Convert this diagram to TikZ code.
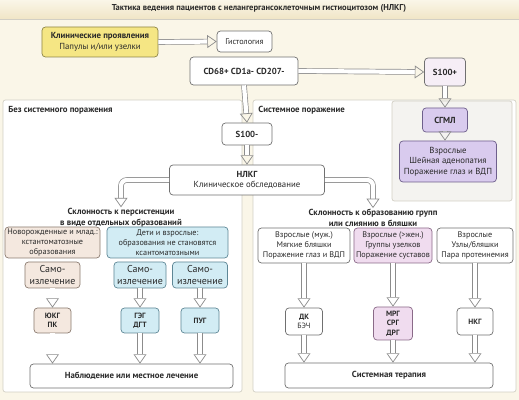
\documentclass[tikz,border=0pt]{standalone}
\usepackage{fontspec}
\setmainfont{PT Sans}
\usepackage{tikz}
\usetikzlibrary{arrows.meta}

\definecolor{bgcream}{HTML}{FAF6E8}
\definecolor{titlebar}{HTML}{F0E5C6}
\definecolor{panelline}{HTML}{D2CFC4}
\definecolor{subfill}{HTML}{F4F3F0}
\definecolor{boxline}{HTML}{707070}
\definecolor{arrline}{HTML}{8C8C8C}
\definecolor{txt}{HTML}{2A2A2A}
\definecolor{yellowfill}{HTML}{F5E684}
\definecolor{yellowline}{HTML}{8E8548}
\definecolor{beigefill}{HTML}{F4E8DF}
\definecolor{beigeline}{HTML}{8B7B70}
\definecolor{bluefill}{HTML}{D2ECF4}
\definecolor{blueline}{HTML}{5E8796}
\definecolor{pinkfill}{HTML}{F0DCEF}
\definecolor{pinkline}{HTML}{8A6A88}
\definecolor{lavfill}{HTML}{D9CBEE}
\definecolor{lavline}{HTML}{6E5F8C}
\definecolor{palepink}{HTML}{F6EEF6}

\begin{document}
\begin{tikzpicture}[x=0.03cm,y=-0.03cm,
  box/.style={draw=boxline, line width=0.6pt, rounded corners=3pt, fill=white, align=center,
    inner sep=1pt, text=txt, font=\fontsize{7}{8.5}\selectfont},
  beige/.style={box, fill=beigefill, draw=beigeline},
  blue/.style={box, fill=bluefill, draw=blueline},
  pink/.style={box, fill=pinkfill, draw=pinkline},
  lav/.style={box, fill=lavfill, draw=lavline},
  head/.style={align=center, inner sep=1pt, text=txt, font=\fontsize{7.5}{9}\selectfont\bfseries},
  panel/.style={draw=panelline, line width=0.6pt, fill=white, rounded corners=2pt},
  blk/.style={draw=arrline, line width=0.6pt, double=white, double distance=3.6pt,
    -{Triangle[open, length=8pt, width=11pt]}}]
\useasboundingbox (0,0) rectangle (519,400);
\fill[bgcream] (0,0) rectangle (519,400);
\shade[top color=bgcream, bottom color=titlebar] (0,0) rectangle (519,19);
\draw[panelline] (0,19) -- (519,19);
\node[head, font=\fontsize{7.3}{9}\selectfont\bfseries] (title) at (259,8)
  {Тактика ведения пациентов с нелангергансоклеточным гистиоцитозом (НЛКГ)};

% panels
\draw[panel] (3,100) rectangle (242,392);
\draw[panel] (253,100) rectangle (516,392);
\draw[panel, fill=subfill] (392,101) rectangle (512,201);
\node[head, anchor=west] (nosys) at (7,110) {Без системного поражения};
\node[head, anchor=west] (sys) at (257,110) {Системное поражение};

% top
\node[box, fill=yellowfill, draw=yellowline, font=\fontsize{7.5}{9}\selectfont,
  minimum width=3.48cm, minimum height=0.9cm] (clin) at (100,42)
  {\textbf{Клинические проявления}\\Папулы и/или узелки};
\node[box, minimum width=1.65cm, minimum height=0.63cm] (hist) at (244.5,41.5) {Гистология};
\node[box, font=\fontsize{7.5}{9}\selectfont\bfseries, minimum width=3.24cm, minimum height=0.84cm]
  (cd) at (244,71) {CD68+ CD1a- CD207-};
\node[box, fill=palepink, font=\fontsize{7.5}{9}\selectfont\bfseries, minimum width=1.23cm,
  minimum height=0.84cm] (splus) at (445,72) {S100+};
\node[box, font=\fontsize{7.5}{9}\selectfont\bfseries, minimum width=1.5cm, minimum height=0.66cm]
  (sminus) at (247,134) {S100-};
\node[box, font=\fontsize{7.5}{9}\selectfont, minimum width=4.65cm, minimum height=0.9cm]
  (nlkg) at (247,180) {\textbf{НЛКГ}\\Клиническое обследование};
\node[lav, font=\fontsize{7.5}{9}\selectfont\bfseries, minimum width=1.35cm, minimum height=0.72cm]
  (sgml) at (445,120) {СГМЛ};
\node[lav, font=\fontsize{7.5}{9}\selectfont, minimum width=2.91cm, minimum height=1.23cm]
  (adult) at (448,161.5) {Взрослые\\Шейная аденопатия\\Поражение глаз и ВДП};

% headings
\node[head] (pers) at (121,218) {Склонность к персистенции\\в виде отдельных образований};
\node[head] (grp) at (373,218) {Склонность к образованию групп\\или слиянию в бляшки};

% left branch
\node[beige, minimum width=2.85cm, minimum height=0.93cm] (newborn) at (52.5,242.5)
  {Новорожденные и млад.:\\кстантоматозные\\образования};
\node[blue, minimum width=3.63cm, minimum height=0.93cm] (children) at (167.5,242.5)
  {Дети и взрослые:\\образования не становятся\\ксантоматозными};
\node[beige, font=\fontsize{8.5}{10}\selectfont, minimum width=1.65cm, minimum height=0.78cm]
  (selfa) at (52.5,275) {Само-\\излечение};
\node[blue, font=\fontsize{8.5}{10}\selectfont, minimum width=1.56cm, minimum height=0.78cm]
  (selfb) at (140,275) {Само-\\излечение};
\node[blue, font=\fontsize{8.5}{10}\selectfont, minimum width=1.65cm, minimum height=0.78cm]
  (selfc) at (200,275) {Само-\\излечение};
\node[beige, font=\fontsize{6.5}{8}\selectfont\bfseries, minimum width=1.11cm, minimum height=0.75cm]
  (jkg) at (52.5,320.5) {ЮКГ\\ПК};
\node[blue, font=\fontsize{6.5}{8}\selectfont\bfseries, minimum width=1.14cm, minimum height=0.75cm]
  (geg) at (140,320.5) {ГЭГ\\ДГТ};
\node[blue, font=\fontsize{6.5}{8}\selectfont\bfseries, minimum width=1.14cm, minimum height=0.75cm]
  (pug) at (200,320.5) {ПУГ};
\node[box, font=\fontsize{7.5}{9}\selectfont\bfseries, minimum width=6.09cm, minimum height=0.72cm]
  (observe) at (131.5,376) {Наблюдение или местное лечение};

% right branch
\node[box, minimum width=2.76cm, minimum height=1.05cm] (men) at (304,245.5)
  {Взрослые (муж.)\\Мягкие бляшки\\Поражение глаз и ВДП};
\node[pink, minimum width=2.34cm, minimum height=1.05cm] (women) at (393,245.5)
  {Взрослые (>жен.)\\Группы узелков\\Поражение суставов};
\node[box, minimum width=2.28cm, minimum height=1.05cm] (nodes) at (475,245.5)
  {Взрослые\\Узлы/бляшки\\Пара протеинемия};
\node[box, font=\fontsize{6.5}{8}\selectfont, minimum width=1.11cm, minimum height=0.81cm]
  (dk) at (304,321.5) {\textbf{ДК}\\БЭЧ};
\node[pink, font=\fontsize{6.5}{8}\selectfont\bfseries, minimum width=1.17cm, minimum height=0.99cm]
  (mrg) at (393,323.5) {МРГ\\СРГ\\ДРГ};
\node[box, font=\fontsize{6.5}{8}\selectfont\bfseries, minimum width=1.08cm, minimum height=0.81cm]
  (nkg) at (475,321.5) {НКГ};
\node[box, font=\fontsize{7.5}{9}\selectfont\bfseries, minimum width=6.24cm, minimum height=0.75cm]
  (therapy) at (389,375.5) {Системная терапия};

% arrows
\draw[blk] (clin.east) -- (hist.west);
\draw[blk] (cd.east) -- (splus.west);
\draw[blk] (cd.south) -- (sminus.north);
\draw[blk] (sminus.south) -- (nlkg.north);
\draw[blk] (splus.south) -- (sgml.north);
\draw[blk] (sgml.south) -- (sgml.south |- adult.north);
\draw[blk, rounded corners=5pt] (nlkg.west) -| (pers.north);
\draw[blk, rounded corners=5pt] (nlkg.east) -| (grp.north);
\foreach \a/\b in {selfa/jkg, selfb/geg, selfc/pug, jkg/observe, geg/observe, pug/observe,
  men/dk, women/mrg, nodes/nkg, dk/therapy, mrg/therapy, nkg/therapy}
  \draw[blk] (\a.south) -- (\a.south |- \b.north);
\end{tikzpicture}
\end{document}
